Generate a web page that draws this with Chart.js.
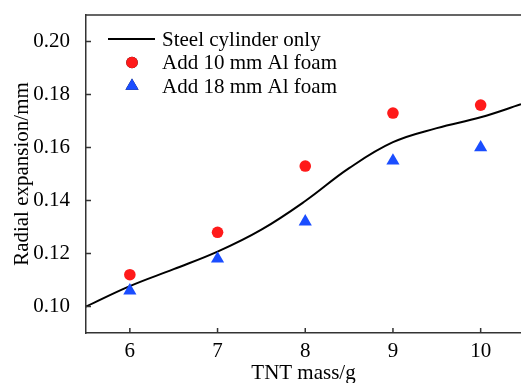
<!DOCTYPE html>
<html>
<head>
<meta charset="utf-8">
<script src="https://cdn.jsdelivr.net/npm/chart.js@4/dist/chart.umd.min.js"></script>
<style>
  html, body { margin: 0; padding: 0; background: #fff; }
  #wrap { width: 521px; height: 383px; }
</style>
</head>
<body>
<div id="wrap"><canvas id="chart"></canvas></div>
<script>
// Werte
const tntMass = [6, 7, 8, 9, 10];
const foam10mm = [0.112, 0.128, 0.153, 0.173, 0.176];
const foam18mm = [0.106, 0.118, 0.132, 0.155, 0.160];

// Kurve "Steel cylinder only"
const curveX = [5.5, 6, 6.5, 7, 7.5, 8, 8.5, 9, 9.5, 10, 10.46];
const curveY = [0.100, 0.1077, 0.1141, 0.1207, 0.1290, 0.1398, 0.1522, 0.1620, 0.1673, 0.1714, 0.1763];

const xTicks = [6, 7, 8, 9, 10];
const yTicks = [0.10, 0.12, 0.14, 0.16, 0.18, 0.20];

const legendLabels = ['Steel cylinder only', 'Add 10 mm Al foam', 'Add 18 mm Al foam'];

const FONT = '"Liberation Serif", "Times New Roman", serif';
const FS = 21;
const AXIS = '#333';

// Rahmen oben + nach innen zeigende Ticks + Legende
const framePlugin = {
    id: 'frame',
    afterDraw(chart) {
        const ctx = chart.ctx;
        const area = chart.chartArea;
        const xs = chart.scales.x;
        const ys = chart.scales.y;
        ctx.save();
        ctx.strokeStyle = AXIS;
        ctx.lineWidth = 1.5;
        ctx.beginPath();
        ctx.moveTo(area.left, area.top);
        ctx.lineTo(area.right, area.top);
        xTicks.forEach(v => {
            const px = xs.getPixelForValue(v);
            ctx.moveTo(px, area.bottom);
            ctx.lineTo(px, area.bottom - 5);
        });
        yTicks.forEach(v => {
            const py = ys.getPixelForValue(v);
            ctx.moveTo(area.left, py);
            ctx.lineTo(area.left + 5, py);
        });
        ctx.stroke();

        // Legende
        const lx = area.left + 46;
        const ly = area.top + 24;
        const rowH = 23.5;
        ctx.font = FS + 'px ' + FONT;
        ctx.fillStyle = '#000';
        ctx.textBaseline = 'middle';
        legendLabels.forEach((label, i) => {
            const y = ly + i * rowH;
            if (i === 0) {
                ctx.strokeStyle = '#000';
                ctx.lineWidth = 2;
                ctx.beginPath();
                ctx.moveTo(lx - 24, y);
                ctx.lineTo(lx + 23, y);
                ctx.stroke();
            } else {
                const ds = chart.data.datasets[i];
                Chart.helpers.drawPoint(ctx, {
                    pointStyle: ds.pointStyle,
                    radius: ds.pointRadius,
                    borderWidth: 0
                }, lx, y);
                ctx.fillStyle = ds.backgroundColor;
                ctx.fill();
                ctx.fillStyle = '#000';
            }
            ctx.fillText(label, lx + 30, y + 1);
        });
        ctx.restore();
    }
};

function noPad(scale) {
    scale.paddingLeft = 0;
    scale.paddingRight = 0;
    scale.paddingTop = 0;
    scale.paddingBottom = 0;
}

const ctx = document.getElementById('chart').getContext('2d');
new Chart(ctx, {
    type: 'scatter',
    data: {
        datasets: [{
            label: legendLabels[0],
            data: curveX.map((x, i) => ({ x: x, y: curveY[i] })),
            showLine: true,
            borderColor: '#000',
            borderWidth: 2,
            pointRadius: 0,
            tension: 0.4,
            fill: false,
            order: 3
        }, {
            label: legendLabels[1],
            data: tntMass.map((x, i) => ({ x: x, y: foam10mm[i] })),
            pointStyle: 'circle',
            pointRadius: 5.8,
            backgroundColor: '#ff1a1a',
            borderWidth: 0,
            order: 1
        }, {
            label: legendLabels[2],
            data: tntMass.map((x, i) => ({ x: x, y: foam18mm[i] })),
            pointStyle: 'triangle',
            pointRadius: 7.6,
            backgroundColor: '#1a4dff',
            borderWidth: 0,
            order: 2
        }]
    },
    options: {
        responsive: true,
        maintainAspectRatio: false,
        animation: false,
        layout: { autoPadding: false, padding: { top: 15, right: 0, left: 0, bottom: 0 } },
        plugins: {
            legend: { display: false },
            tooltip: { enabled: false }
        },
        scales: {
            x: {
                type: 'linear',
                min: 5.5,
                max: 10.46,
                afterBuildTicks: scale => { scale.ticks = xTicks.map(v => ({ value: v })); },
                afterFit: scale => { scale.height = 50; noPad(scale); },
                grid: { display: false },
                border: { display: true, color: AXIS, width: 1.5 },
                ticks: {
                    color: '#000',
                    padding: -2,
                    font: { family: FONT, size: FS }
                },
                title: {
                    display: true,
                    text: 'TNT mass/g',
                    color: '#000',
                    padding: { top: 0, bottom: -3 },
                    font: { family: FONT, size: FS }
                }
            },
            y: {
                type: 'linear',
                min: 0.09,
                max: 0.21,
                afterBuildTicks: scale => { scale.ticks = yTicks.map(v => ({ value: v })); },
                afterFit: scale => { scale.width = 86; noPad(scale); },
                grid: { display: false },
                border: { display: true, color: AXIS, width: 1.5 },
                ticks: {
                    color: '#000',
                    padding: 8,
                    font: { family: FONT, size: FS },
                    callback: v => v.toFixed(2)
                },
                title: {
                    display: true,
                    text: 'Radial expansion/mm',
                    color: '#000',
                    padding: { top: 10, bottom: 0 },
                    font: { family: FONT, size: FS }
                }
            }
        }
    },
    plugins: [framePlugin]
});
</script>
</body>
</html>
